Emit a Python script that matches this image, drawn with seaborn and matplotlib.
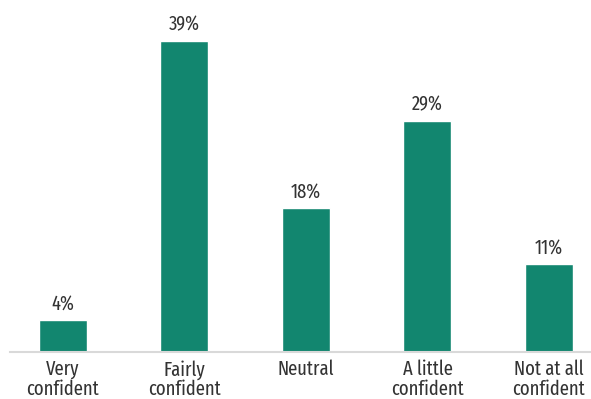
import matplotlib
matplotlib.use("Agg")
import matplotlib.pyplot as plt
import seaborn as sns
import pandas as pd

categories = ["Very\nconfident", "Fairly\nconfident", "Neutral", "A little\nconfident", "Not at all\nconfident"]
values = [4, 39, 18, 29, 11]

sns.set_style("white")
plt.rcParams["font.family"] = ["Fira Sans Extra Condensed", "DejaVu Sans"]

df = pd.DataFrame({"category": categories, "value": values})

fig = plt.figure(figsize=(5.91, 3.99), dpi=100)
ax = fig.add_axes([10 / 591, 47 / 399, 581 / 591, 335 / 399])
sns.barplot(data=df, x="category", y="value", color="#12866f", width=0.395,
            saturation=1, ax=ax)

ax.set_xlim(-0.436, 4.346)
ax.set_ylim(0, 42)
ax.set_xlabel("")
ax.set_ylabel("")
ax.set_yticks([])
for s in ["top", "right", "left"]:
    ax.spines[s].set_visible(False)
ax.spines["bottom"].set_color("#d9d9d9")
ax.spines["bottom"].set_linewidth(1.5)
ax.tick_params(axis="x", length=0, pad=5.5, labelsize=14.5, labelcolor="#333333")
for lbl in ax.get_xticklabels():
    lbl.set_linespacing(1.0)

for i, v in enumerate(values):
    ax.annotate(f"{v}%", (i, v), xytext=(0, 7.5), textcoords="offset points",
                ha="center", va="baseline", fontsize=14.5, color="#333333")

fig.savefig("out.png", dpi=100)
